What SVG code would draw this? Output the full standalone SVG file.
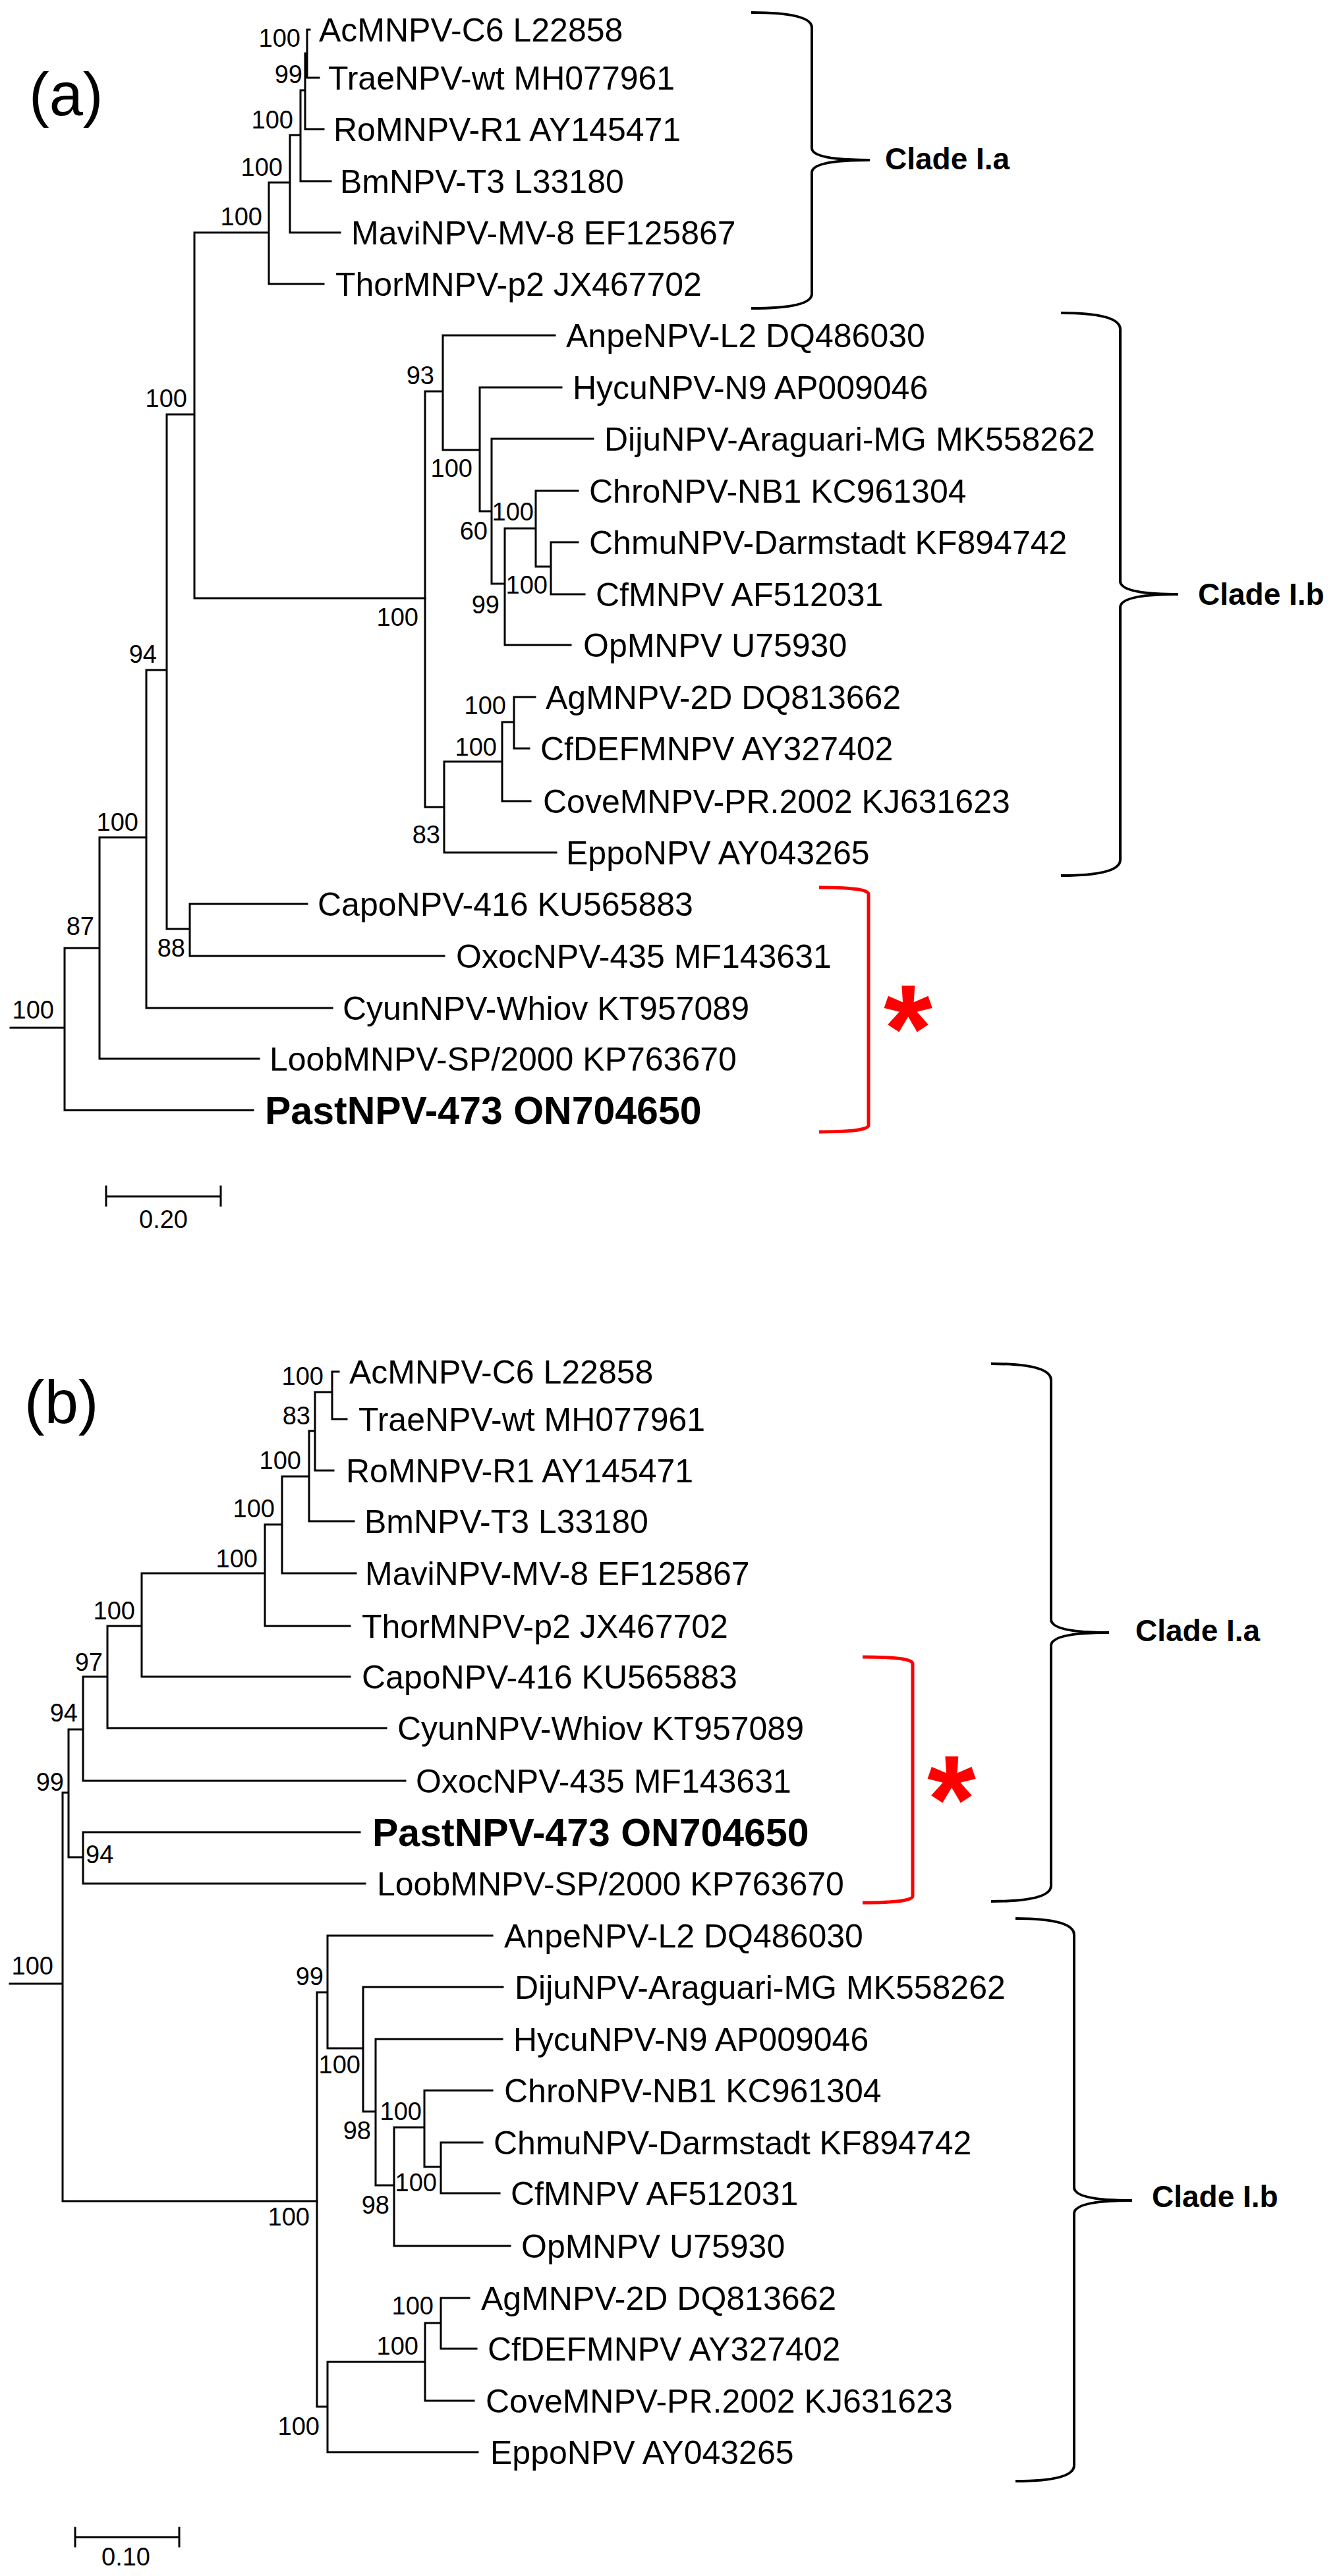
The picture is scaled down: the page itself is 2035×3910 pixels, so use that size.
<svg xmlns="http://www.w3.org/2000/svg" width="2035" height="3910" viewBox="0 0 2035 3910">
<style>
text{font-family:"Liberation Sans",Arial,sans-serif;fill:#000}
.t{font-size:50px}
.pb{font-size:59px;font-weight:bold}
.b{font-size:38px;text-anchor:end}
.bs{font-size:38px}
.cl{font-size:46px;font-weight:bold}
.pl{font-size:92px}
.br{fill:none;stroke:#000;stroke-width:4}
.rb{fill:none;stroke:#f00;stroke-width:5}
.ast{font-size:190px;font-weight:bold;fill:#f00;text-anchor:middle}
#edges path{fill:none;stroke:#000;stroke-width:3;stroke-linecap:square}
</style>
<rect width="2035" height="3910" fill="#fff"/>
<g id="edges">
<path d="M16,1560H98M98,1439V1685M98,1439H151M98,1685H384M151,1271V1607M151,1271H222M151,1607H393M222,1017V1530M222,1017H253M222,1530H504M253,629V1410M253,629H295M253,1410H288M288,1372V1451M288,1372H466M288,1451H674M295,353V908M295,353H408M295,908H645M408,277V431M408,277H440M408,431H491M440,205V353M440,205H456M440,353H516M456,137V275M456,137H463M456,275H502M463,81V196M463,81H466M463,196H491M466,45V118M466,45H470M466,118H484"/>
<path d="M645,594V1225M645,594H672M645,1225H674M672,509V683M672,509H842M672,683H728M728,588V776M728,588H852M728,776H746M746,666V886M746,666H900M746,886H766M766,802V979M766,802H813M766,979H866M813,745V860M813,745H877M813,860H836M836,823V902M836,823H877M836,902H887M674,1156V1294M674,1156H762M674,1294H844M762,1096V1216M762,1096H780M762,1216H805M780,1058V1136M780,1058H812M780,1136H803"/>
<path d="M161,1816H335M161,1801V1830M335,1801V1830"/>
<path d="M15,3011H95M95,2721V3341M95,2721H104M95,3341H481M104,2625V2819M104,2625H126M104,2819H126M126,2545V2703M126,2545H163M126,2703H615M126,2781V2859M126,2781H546M126,2859H554M163,2468V2623M163,2468H215M163,2623H586M215,2388V2545M215,2388H402M215,2545H531M402,2314V2468M402,2314H428M402,2468H531M428,2241V2388M428,2241H469M428,2388H540M469,2172V2309M469,2172H478M469,2309H537M478,2113V2232M478,2113H504M478,2232H506M504,2082V2154M504,2082H514M504,2154H526"/>
<path d="M481,3024V3653M481,3024H497M481,3653H497M497,2938V3109M497,2938H747M497,3109H551M551,3016V3205M551,3016H763M551,3205H570M570,3095V3317M570,3095H762M570,3317H598M598,3229V3409M598,3229H644M598,3409H774M644,3173V3289M644,3173H747M644,3289H669M669,3252V3329M669,3252H732M669,3329H758M497,3585V3722M497,3585H645M497,3722H725M645,3526V3644M645,3526H669M645,3644H719M669,3488V3565M669,3488H712M669,3565H723"/>
<path d="M114,3851H272M114,3837V3865M272,3837V3865"/>
</g>
<g id="panel-a">
<text class="pl" x="44" y="175">(a)</text>
<g id="a-tips">
<text class="t" x="484" y="63">AcMNPV-C6 L22858</text>
<text class="t" x="498" y="136">TraeNPV-wt MH077961</text>
<text class="t" x="506" y="214">RoMNPV-R1 AY145471</text>
<text class="t" x="516" y="293">BmNPV-T3 L33180</text>
<text class="t" x="533" y="371">MaviNPV-MV-8 EF125867</text>
<text class="t" x="509" y="449">ThorMNPV-p2 JX467702</text>
<text class="t" x="859" y="527">AnpeNPV-L2 DQ486030</text>
<text class="t" x="869" y="606">HycuNPV-N9 AP009046</text>
<text class="t" x="917" y="684">DijuNPV-Araguari-MG MK558262</text>
<text class="t" x="894" y="763">ChroNPV-NB1 KC961304</text>
<text class="t" x="894" y="841">ChmuNPV-Darmstadt KF894742</text>
<text class="t" x="904" y="920">CfMNPV AF512031</text>
<text class="t" x="885" y="997">OpMNPV U75930</text>
<text class="t" x="828" y="1076">AgMNPV-2D DQ813662</text>
<text class="t" x="820" y="1154">CfDEFMNPV AY327402</text>
<text class="t" x="824" y="1234">CoveMNPV-PR.2002 KJ631623</text>
<text class="t" x="859" y="1312">EppoNPV AY043265</text>
<text class="t" x="482" y="1390">CapoNPV-416 KU565883</text>
<text class="t" x="692" y="1469">OxocNPV-435 MF143631</text>
<text class="t" x="520" y="1548">CyunNPV-Whiov KT957089</text>
<text class="t" x="409" y="1625">LoobMNPV-SP/2000 KP763670</text>
<text class="pb" x="402" y="1706">PastNPV-473 ON704650</text>
</g>
<g id="a-boot">
<text class="b" x="456" y="71">100</text>
<text class="b" x="459" y="126">99</text>
<text class="b" x="445" y="195">100</text>
<text class="b" x="429" y="267">100</text>
<text class="b" x="398" y="342">100</text>
<text class="b" x="284" y="618">100</text>
<text class="b" x="659" y="583">93</text>
<text class="b" x="717" y="724">100</text>
<text class="b" x="810" y="790">100</text>
<text class="b" x="740" y="819">60</text>
<text class="b" x="831" y="901">100</text>
<text class="b" x="758" y="931">99</text>
<text class="b" x="635" y="950">100</text>
<text class="b" x="238" y="1006">94</text>
<text class="b" x="768" y="1084">100</text>
<text class="b" x="754" y="1147">100</text>
<text class="b" x="210" y="1261">100</text>
<text class="b" x="668" y="1280">83</text>
<text class="b" x="143" y="1419">87</text>
<text class="b" x="281" y="1452">88</text>
<text class="b" x="82" y="1546">100</text>
</g>
<g id="a-clades">
<path class="br" d="M1140,19Q1232,19 1232,42V225Q1232,243 1320,243Q1232,243 1232,262V446Q1232,468 1140,468"/>
<text class="cl" x="1343" y="257">Clade I.a</text>
<path class="br" d="M1610,475Q1700,475 1700,500V882Q1700,902 1788,902Q1700,902 1700,922V1305Q1700,1329 1610,1329"/>
<text class="cl" x="1818" y="918">Clade I.b</text>
<path class="rb" d="M1243,1347Q1318,1347 1318,1357V1708Q1318,1718 1243,1718"/>
<text class="ast" x="1378" y="1626">*</text>
</g>
<text class="bs" x="248" y="1864" text-anchor="middle">0.20</text>
</g>
<g id="panel-b">
<text class="pl" x="37" y="2160">(b)</text>
<g id="b-tips">
<text class="t" x="530" y="2100">AcMNPV-C6 L22858</text>
<text class="t" x="544" y="2172">TraeNPV-wt MH077961</text>
<text class="t" x="525" y="2250">RoMNPV-R1 AY145471</text>
<text class="t" x="553" y="2327">BmNPV-T3 L33180</text>
<text class="t" x="554" y="2406">MaviNPV-MV-8 EF125867</text>
<text class="t" x="549" y="2486">ThorMNPV-p2 JX467702</text>
<text class="t" x="549" y="2563">CapoNPV-416 KU565883</text>
<text class="t" x="603" y="2641">CyunNPV-Whiov KT957089</text>
<text class="t" x="631" y="2721">OxocNPV-435 MF143631</text>
<text class="pb" x="565" y="2802">PastNPV-473 ON704650</text>
<text class="t" x="572" y="2877">LoobMNPV-SP/2000 KP763670</text>
<text class="t" x="765" y="2956">AnpeNPV-L2 DQ486030</text>
<text class="t" x="781" y="3034">DijuNPV-Araguari-MG MK558262</text>
<text class="t" x="779" y="3113">HycuNPV-N9 AP009046</text>
<text class="t" x="765" y="3191">ChroNPV-NB1 KC961304</text>
<text class="t" x="749" y="3270">ChmuNPV-Darmstadt KF894742</text>
<text class="t" x="775" y="3347">CfMNPV AF512031</text>
<text class="t" x="791" y="3427">OpMNPV U75930</text>
<text class="t" x="730" y="3506">AgMNPV-2D DQ813662</text>
<text class="t" x="740" y="3583">CfDEFMNPV AY327402</text>
<text class="t" x="737" y="3662">CoveMNPV-PR.2002 KJ631623</text>
<text class="t" x="744" y="3740">EppoNPV AY043265</text>
</g>
<g id="b-boot">
<text class="b" x="491" y="2102">100</text>
<text class="b" x="471" y="2162">83</text>
<text class="b" x="457" y="2230">100</text>
<text class="b" x="417" y="2303">100</text>
<text class="b" x="391" y="2379">100</text>
<text class="b" x="205" y="2458">100</text>
<text class="b" x="156" y="2536">97</text>
<text class="b" x="118" y="2613">94</text>
<text class="b" x="97" y="2718">99</text>
<text class="bs" x="130" y="2828">94</text>
<text class="b" x="81" y="2997">100</text>
<text class="b" x="491" y="3013">99</text>
<text class="b" x="547" y="3147">100</text>
<text class="b" x="640" y="3218">100</text>
<text class="b" x="563" y="3247">98</text>
<text class="b" x="663" y="3326">100</text>
<text class="b" x="591" y="3360">98</text>
<text class="b" x="470" y="3378">100</text>
<text class="b" x="658" y="3513">100</text>
<text class="b" x="635" y="3574">100</text>
<text class="b" x="485" y="3696">100</text>
</g>
<g id="b-clades">
<path class="br" d="M1504,2070Q1595,2070 1595,2095V2458Q1595,2478 1683,2478Q1595,2478 1595,2498V2862Q1595,2886 1504,2886"/>
<text class="cl" x="1723" y="2491">Clade I.a</text>
<path class="br" d="M1541,2912Q1630,2912 1630,2937V3320Q1630,3340 1718,3340Q1630,3340 1630,3360V3742Q1630,3766 1541,3766"/>
<text class="cl" x="1748" y="3350">Clade I.b</text>
<path class="rb" d="M1309,2515Q1385,2515 1385,2525V2878Q1385,2888 1309,2888"/>
<text class="ast" x="1444" y="2796">*</text>
</g>
<text class="bs" x="191" y="3894" text-anchor="middle">0.10</text>
</g>
</svg>
